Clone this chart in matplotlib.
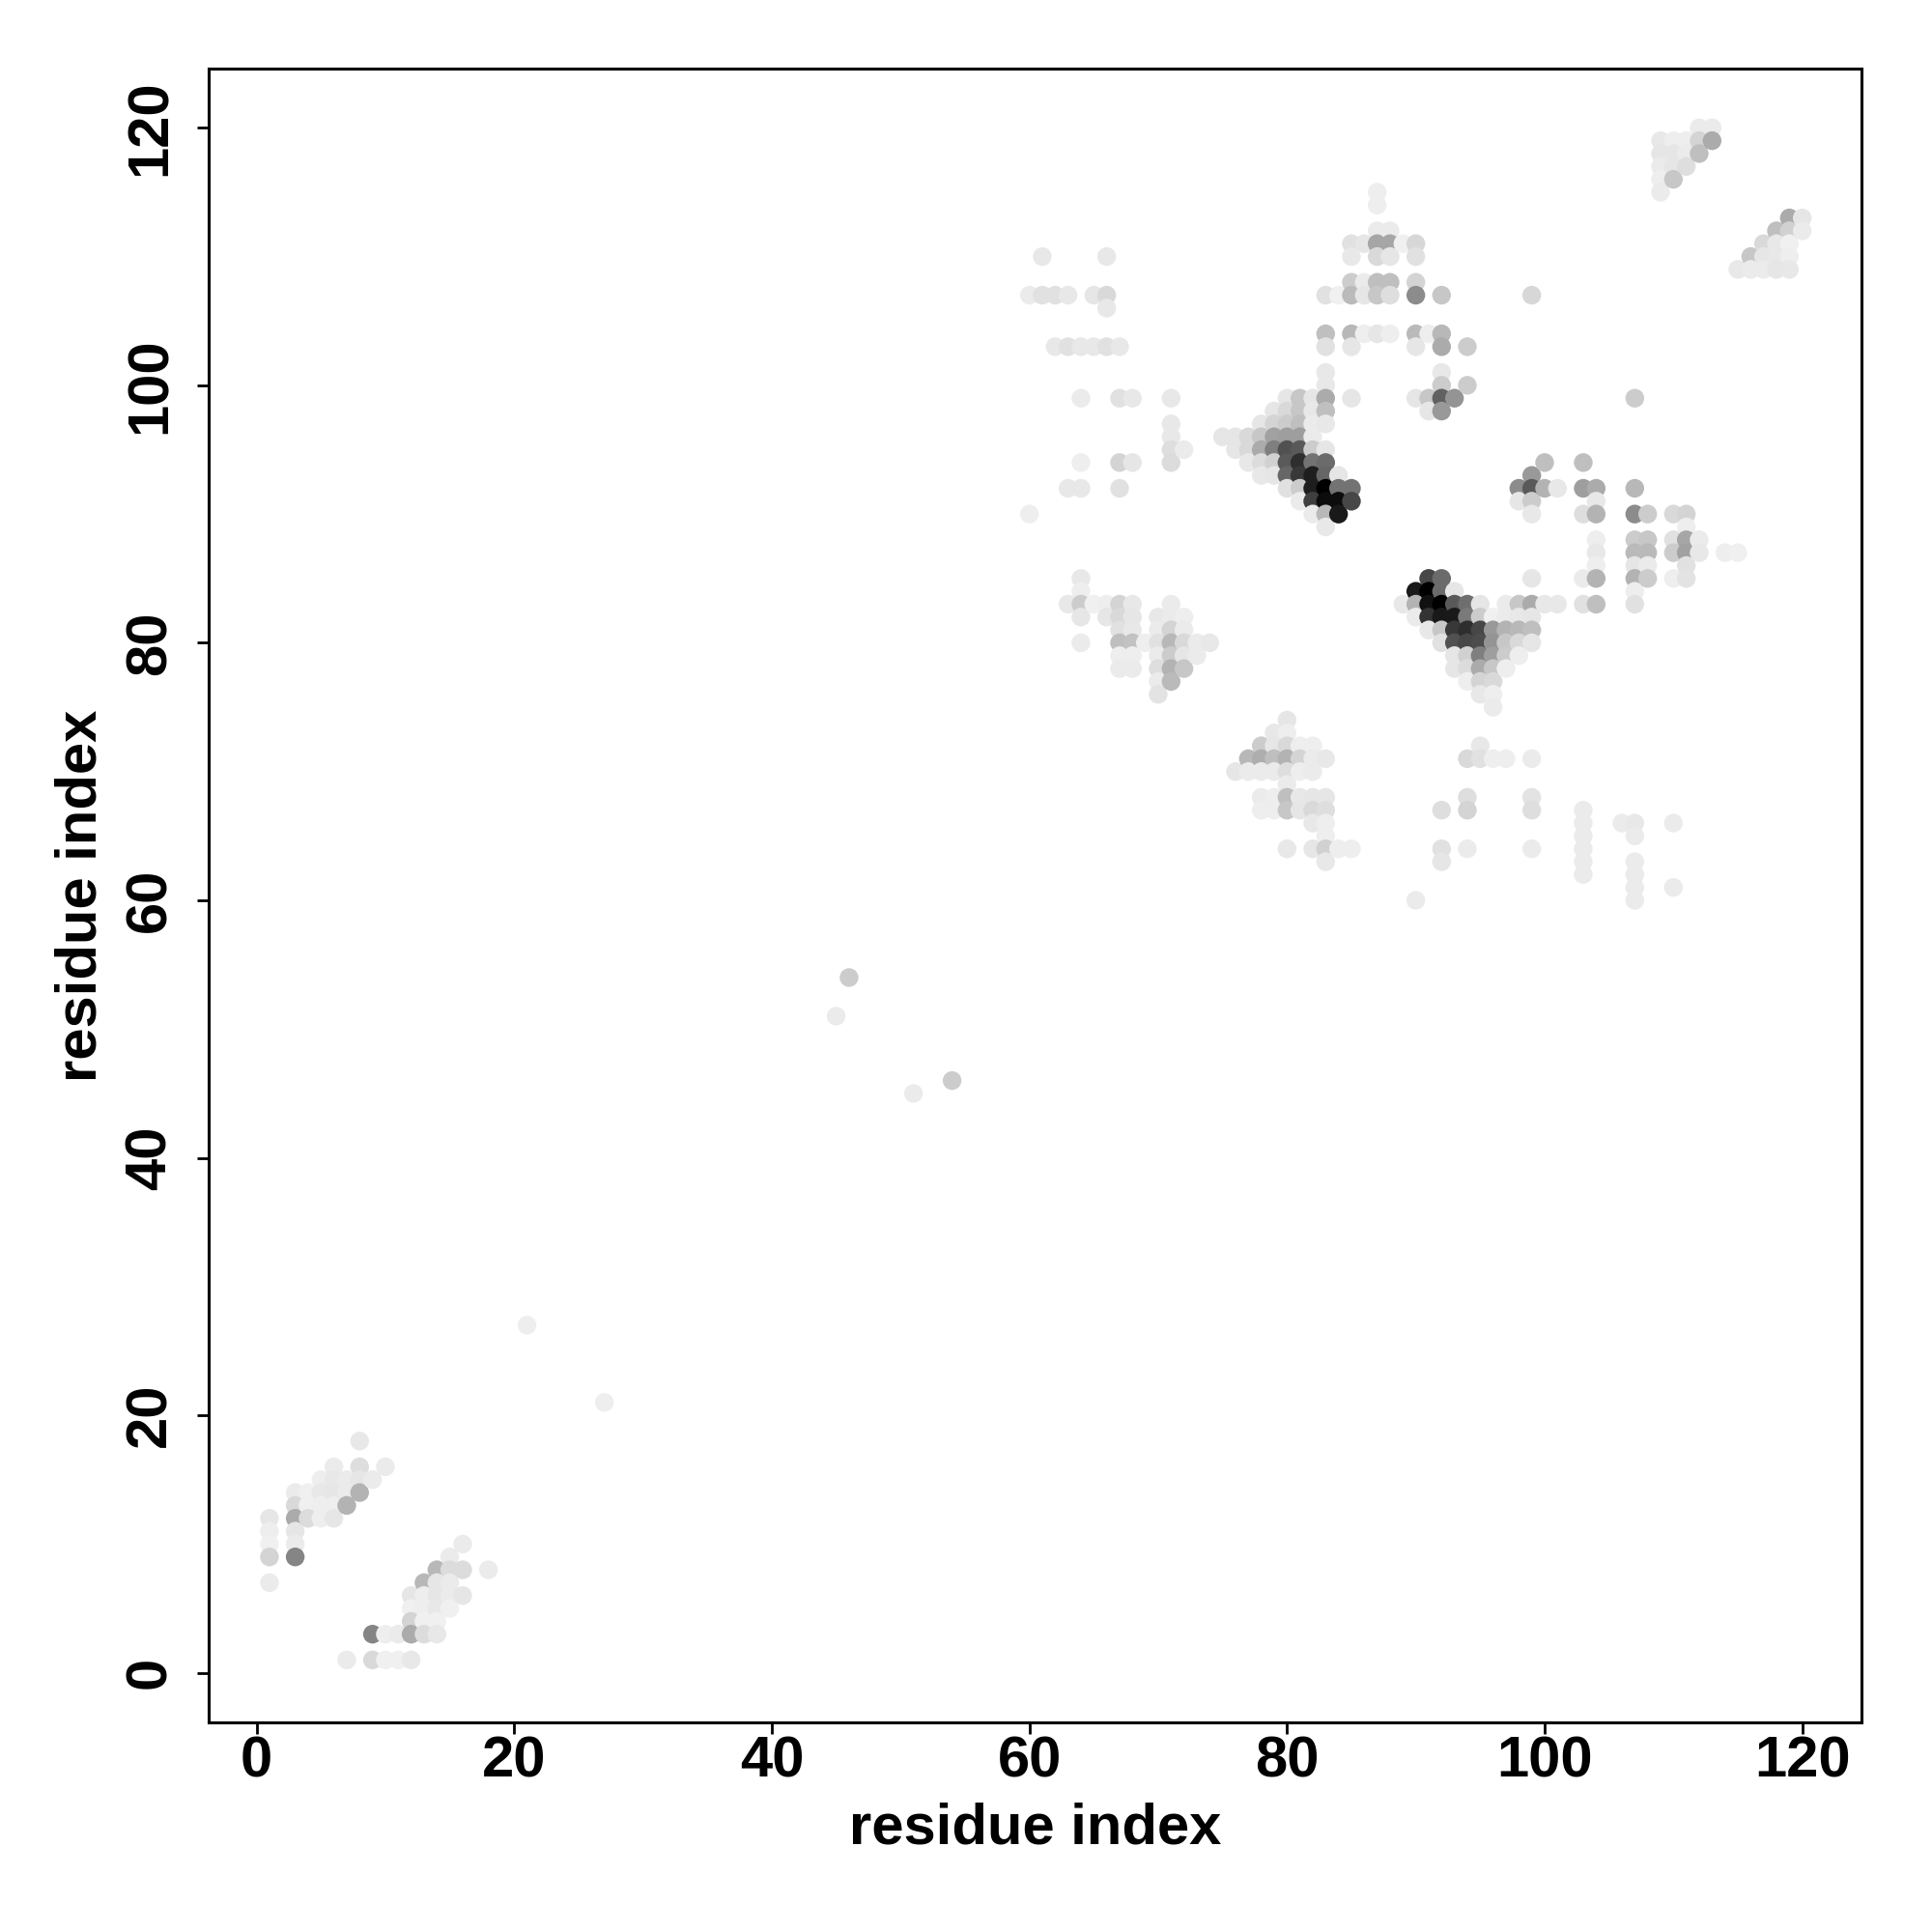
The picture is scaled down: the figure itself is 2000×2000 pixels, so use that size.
import numpy as np
import matplotlib
matplotlib.use('Agg')
import matplotlib.pyplot as plt

plt.rcParams['font.family'] = ['Liberation Sans', 'DejaVu Sans']
plt.rcParams['font.weight'] = 'bold'

# (x residue, y residue, darkness 0-1)
contacts_low = [
    (8,18,.09), (6,16,.08), (8,16,.13), (10,16,.08),
    (5,15,.07), (6,15,.09), (7,15,.08), (8,15,.10), (9,15,.08),
    (3,14,.08), (4,14,.06), (5,14,.09), (6,14,.10), (7,14,.08), (8,14,.30),
    (3,13,.15), (4,13,.06), (5,13,.07), (6,13,.07), (7,13,.30),
    (1,12,.10), (3,12,.33), (4,12,.14), (5,12,.07), (6,12,.10),
    (1,11,.07), (3,11,.10), (1,10,.06), (3,10,.08), (1,9,.17), (3,9,.48), (1,7,.08),
    (16,10,.08), (15,9,.08), (14,8,.28), (15,8,.14), (16,8,.14), (18,8,.08),
    (13,7,.28), (14,7,.10), (15,7,.08),
    (12,6,.10), (13,6,.07), (14,6,.10), (15,6,.08), (16,6,.10),
    (12,5,.06), (13,5,.07), (14,5,.09), (15,5,.06),
    (12,4,.17), (13,4,.06), (14,4,.06),
    (9,3,.48), (10,3,.07), (11,3,.08), (12,3,.33), (13,3,.14), (14,3,.09),
    (7,1,.08), (9,1,.15), (10,1,.06), (11,1,.06), (12,1,.09),
]
contacts_isolated = [
    (46,54,.20), (45,51,.08), (54,46,.20), (51,45,.08), (21,27,.07), (27,21,.07),
]
contacts_corner = [
    (112,120,.08), (113,120,.08),
    (109,119,.09), (110,119,.07), (111,119,.07), (112,119,.17), (113,119,.33),
    (109,118,.10), (110,118,.10), (111,118,.08), (112,118,.25),
    (109,117,.08), (110,117,.10), (111,117,.13),
    (109,116,.07), (110,116,.22), (109,115,.08),
    (119,113,.33), (120,113,.10), (118,112,.25), (119,112,.18), (120,112,.08),
    (117,111,.15), (118,111,.09), (119,111,.06),
    (116,110,.22), (117,110,.10), (118,110,.09), (119,110,.07),
    (115,109,.09), (116,109,.08), (117,109,.08), (118,109,.10), (119,109,.09),
]
contacts_top = [
    (87,115,.07), (87,114,.07), (87,112,.08), (88,112,.08),
    (85,111,.12), (86,111,.10), (87,111,.35), (88,111,.35), (89,111,.06), (90,111,.16),
    (61,110,.09), (66,110,.09), (85,110,.09), (87,110,.15), (88,110,.10), (90,110,.12),
    (85,108,.20), (86,108,.08), (87,108,.25), (88,108,.25), (90,108,.17),
    (60,107,.08), (61,107,.12), (62,107,.12), (63,107,.09), (65,107,.10), (66,107,.15),
    (83,107,.12), (84,107,.06), (85,107,.27), (86,107,.10), (87,107,.22), (88,107,.13),
    (90,107,.45), (92,107,.22), (99,107,.16), (66,106,.09),
    (83,104,.25), (85,104,.28), (86,104,.07), (87,104,.10), (88,104,.07),
    (90,104,.27), (91,104,.07), (92,104,.28),
    (62,103,.09), (63,103,.12), (64,103,.09), (65,103,.09), (66,103,.12), (67,103,.09),
    (83,103,.12), (85,103,.10), (90,103,.10), (92,103,.33), (94,103,.20),
    (83,101,.09), (92,101,.09), (83,100,.09), (92,100,.20), (94,100,.20),
    (64,99,.08), (67,99,.12), (68,99,.09), (71,99,.09), (107,99,.20),
    (90,99,.10), (91,99,.22), (92,99,.62), (93,99,.42), (91,98,.10), (92,98,.40),
    (71,97,.09), (71,96,.09), (71,95,.13), (72,95,.08),
    (64,94,.07), (67,94,.17), (68,94,.10), (71,94,.14),
    (63,92,.09), (64,92,.09), (67,92,.12), (60,90,.07),
]
contacts_main_a = [
    (80,99,.10), (81,99,.22), (82,99,.10), (83,99,.33), (85,99,.10),
    (79,98,.10), (80,98,.15), (81,98,.22), (82,98,.09), (83,98,.25),
    (78,97,.10), (79,97,.17), (80,97,.20), (81,97,.25), (82,97,.08), (83,97,.09),
    (75,96,.10), (76,96,.10), (77,96,.15), (78,96,.22), (79,96,.37), (80,96,.38),
    (81,96,.38), (82,96,.08),
    (76,95,.10), (77,95,.15), (78,95,.33), (79,95,.50), (80,95,.68), (81,95,.65),
    (82,95,.20), (83,95,.10),
    (77,94,.09), (78,94,.14), (79,94,.18), (80,94,.65), (81,94,.82), (82,94,.55), (83,94,.58),
    (78,93,.09), (79,93,.10), (80,93,.60), (81,93,.78), (82,93,.88), (83,93,.60), (84,93,.10),
    (80,92,.12), (81,92,.20), (82,92,.88), (83,92,1.0), (84,92,.55), (85,92,.55),
    (81,91,.08), (82,91,.75), (83,91,.95), (84,91,.95), (85,91,.72),
    (82,90,.08), (83,90,.28), (84,90,.90), (83,89,.09),
]
contacts_main_b = [
    (91,85,.72), (92,85,.58), (99,85,.10),
    (90,84,.90), (91,84,1.0), (92,84,.58), (93,84,.10),
    (89,83,.09), (90,83,.30), (91,83,.93), (92,83,1.0), (93,83,.65), (94,83,.57), (95,83,.10),
    (97,83,.08), (98,83,.22), (99,83,.33), (100,83,.09), (101,83,.09),
    (90,82,.08), (91,82,.80), (92,82,.90), (93,82,.90), (94,82,.52), (95,82,.20),
    (96,82,.06), (97,82,.08), (98,82,.09), (99,82,.10),
    (91,81,.09), (92,81,.22), (93,81,.78), (94,81,.82), (95,81,.72), (96,81,.40),
    (97,81,.30), (98,81,.28), (99,81,.25),
    (92,80,.12), (93,80,.68), (94,80,.72), (95,80,.70), (96,80,.42), (97,80,.22),
    (98,80,.15), (99,80,.10),
    (93,79,.10), (94,79,.18), (95,79,.50), (96,79,.38), (97,79,.20), (98,79,.07),
    (93,78,.10), (94,78,.14), (95,78,.33), (96,78,.22), (97,78,.07),
    (94,77,.07), (95,77,.17), (96,77,.15), (95,76,.09), (96,76,.07), (96,75,.08),
]
contacts_right = [
    (100,94,.25), (103,94,.25), (99,93,.40),
    (98,92,.45), (99,92,.65), (100,92,.30), (101,92,.09), (103,92,.38), (104,92,.33), (107,92,.28),
    (98,91,.10), (99,91,.20), (104,91,.09), (99,90,.09),
    (103,90,.13), (104,90,.30), (107,90,.45), (108,90,.20), (110,90,.15), (111,90,.17),
    (111,89,.07),
    (104,88,.07), (107,88,.20), (108,88,.22), (110,88,.12), (111,88,.35), (112,88,.08),
    (104,87,.09), (107,87,.27), (108,87,.27), (110,87,.20), (111,87,.37), (112,87,.09),
    (114,87,.07), (115,87,.06),
    (104,86,.07), (107,86,.10), (108,86,.08), (111,86,.12),
    (103,85,.08), (104,85,.30), (107,85,.30), (108,85,.20), (110,85,.07), (111,85,.11),
    (107,84,.07), (103,83,.12), (104,83,.25), (107,83,.12),
]
contacts_mid_left = [
    (64,85,.09), (64,84,.07),
    (63,83,.09), (64,83,.20), (65,83,.06), (66,83,.07), (67,83,.17), (68,83,.09), (71,83,.08),
    (64,82,.10), (66,82,.10), (67,82,.15), (68,82,.10), (70,82,.09), (71,82,.08), (72,82,.07),
    (67,81,.12), (68,81,.09), (70,81,.08), (71,81,.17), (72,81,.08),
    (64,80,.08), (67,80,.25), (68,80,.24), (69,80,.07), (70,80,.12), (71,80,.28),
    (72,80,.15), (73,80,.08), (74,80,.09),
    (67,79,.07), (68,79,.07), (70,79,.08), (71,79,.20), (72,79,.10), (73,79,.08),
    (67,78,.08), (68,78,.08), (70,78,.13), (71,78,.30), (72,78,.22),
    (70,77,.08), (71,77,.27), (70,76,.11),
]
contacts_mid = [
    (80,74,.10), (79,73,.09), (80,73,.07),
    (78,72,.20), (79,72,.10), (80,72,.15), (81,72,.07), (82,72,.07),
    (77,71,.28), (78,71,.32), (79,71,.25), (80,71,.30), (81,71,.17), (82,71,.08), (83,71,.09),
    (76,70,.10), (77,70,.08), (78,70,.08), (79,70,.08), (80,70,.13), (81,70,.07), (82,70,.08),
    (80,69,.08),
    (78,68,.08), (79,68,.07), (80,68,.25), (81,68,.09), (82,68,.10), (83,68,.10),
    (78,67,.07), (79,67,.07), (80,67,.22), (81,67,.10), (82,67,.15), (83,67,.13),
    (82,66,.09), (83,66,.07), (83,65,.07),
    (80,64,.09), (82,64,.10), (83,64,.18), (84,64,.07), (85,64,.07), (83,63,.09),
    (95,72,.09), (94,71,.15), (95,71,.12), (96,71,.07), (97,71,.07), (99,71,.08),
    (94,68,.13), (99,68,.11), (92,67,.13), (94,67,.17), (99,67,.13),
    (92,64,.12), (94,64,.08), (99,64,.08), (92,63,.10), (90,60,.08),
    (103,67,.08), (103,66,.08), (103,65,.08), (103,64,.08), (103,63,.08), (103,62,.08),
    (106,66,.08), (107,66,.09), (110,66,.08), (107,65,.08),
    (107,63,.08), (107,62,.08), (107,61,.08), (107,60,.08), (110,61,.08),
]
ticks = [0, 20, 40, 60, 80, 100, 120]
axis_label = 'residue index'

points = np.array(contacts_low + contacts_isolated + contacts_corner + contacts_top
                  + contacts_main_a + contacts_main_b + contacts_right
                  + contacts_mid_left + contacts_mid)
# drawn by x going up and y going down, later ones sit on top
order = np.lexsort((-points[:, 1], points[:, 0]))
points = points[order]

fig = plt.figure(figsize=(20, 20), dpi=100)
ax = fig.add_axes([216/2000, 1 - 1783/2000, (1927-216)/2000, (1783-71)/2000])
ax.scatter(points[:, 0], points[:, 1], c=points[:, 2], cmap='gray_r', vmin=0, vmax=1,
           s=195, linewidths=0, zorder=2)
ax.set_xlim(-3.72, 124.6)
ax.set_ylim(-3.85, 124.6)
ax.set_xticks(ticks)
ax.set_yticks(ticks)
ax.tick_params(axis='x', length=8.5, width=2, labelsize=43, pad=1)
ax.tick_params(axis='y', length=8.5, width=2, labelsize=43, pad=15)
plt.setp(ax.get_yticklabels(), rotation=90, va='center')
for side in ax.spines.values():
    side.set_linewidth(2.2)
ax.set_xlabel(axis_label, fontsize=43, fontweight='bold', labelpad=10)
ax.set_ylabel(axis_label, fontsize=43, fontweight='bold', labelpad=12)
plt.savefig('out.png', dpi=100)
